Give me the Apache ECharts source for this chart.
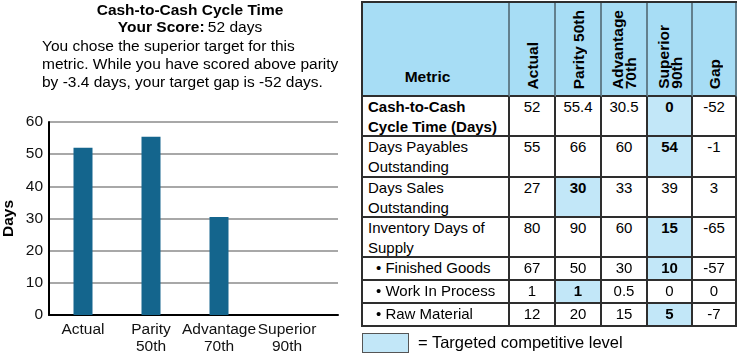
<!DOCTYPE html>
<html>
<head>
<meta charset="utf-8">
<script src="https://cdn.jsdelivr.net/npm/echarts@6/dist/echarts.min.js"></script>
<style>
html,body{margin:0;padding:0;background:#fff;}
body{width:738px;height:358px;position:relative;overflow:hidden;font-family:'Liberation Sans',Arial,sans-serif;color:#000;}
#chart{position:absolute;left:0;top:0;width:738px;height:358px;}
#tbl{position:absolute;left:361px;top:1px;width:374px;height:324px;border-left:2px solid #2e2e2e;border-top:2px solid #2e2e2e;z-index:2;}
.cell{position:absolute;box-sizing:border-box;border-right:2px solid #2e2e2e;border-bottom:2px solid #2e2e2e;background:#fff;}
.hdr{background:#a7ddf5;border-right-color:#62808e;display:flex;flex-direction:column;justify-content:flex-end;align-items:center;font-weight:bold;font-size:15.5px;}
.rot{writing-mode:vertical-rl;transform:rotate(180deg);white-space:pre;line-height:13px;padding-top:6px;}
.metric{font-size:15px;line-height:20px;padding-left:5px;white-space:pre-line;}
.num{font-size:15px;line-height:20px;text-align:center;}
.tgt{background:#c2e7f8;font-weight:bold;}
#legbox{position:absolute;left:362px;top:333px;width:45px;height:18px;border:1px solid #555;background:#c2e7f8;z-index:2;}
#legtxt{position:absolute;left:418px;top:332px;height:20px;line-height:20px;font-size:16.5px;z-index:2;}
</style>
</head>
<body>
<div id="chart"></div>
<div id="tbl"></div>
<div id="legbox"></div>
<div id="legtxt"></div>
<script>
// ---- data ----
const chartTitle = 'Cash-to-Cash Cycle Time';
const yourScore = 52;
const categories = ['Actual', 'Parity\n50th', 'Advantage\n70th', 'Superior\n90th'];
const barValues = [52, 55.4, 30.5, 0];
const yMin = 0, yMax = 60, yStep = 10;
const yAxisName = 'Days';

const tableHeaders = ['Metric', 'Actual', 'Parity 50th', 'Advantage\n70th', 'Superior\n90th', 'Gap'];
const metrics = ['Cash-to-Cash\nCycle Time (Days)', 'Days Payables\nOutstanding', 'Days Sales\nOutstanding',
  'Inventory Days of\nSupply', '• Finished Goods', '• Work In Process', '• Raw Material'];
const actualCol = [52, 55, 27, 80, 67, 1, 12];
const parityCol = [55.4, 66, 30, 90, 50, 1, 20];
const advantageCol = [30.5, 60, 33, 60, 30, 0.5, 15];
const superiorCol = [0, 54, 39, 15, 10, 0, 5];
const gapCol = [-52, -1, 3, -65, -57, 0, -7];
const targetCol = [4, 4, 2, 4, 4, 2, 4]; // 1 Actual, 2 Parity, 3 Advantage, 4 Superior
const boldMetricRows = [0];
const legendText = '= Targeted competitive level';

// ---- layout ----
const colX = [362, 509, 555, 601, 647, 692, 736];
const rowY = [2, 96, 136, 177, 217, 257, 280, 303, 326];
const FONT = "'Liberation Sans', Arial, sans-serif";
const FS = 15.5;

// ---- table ----
const tbl = document.getElementById('tbl');
function addCell(r, c, cls, html) {
  const d = document.createElement('div');
  d.className = 'cell ' + cls;
  d.style.left = (colX[c] - 362) + 'px';
  d.style.top = (rowY[r] - 2) + 'px';
  d.style.width = (colX[c + 1] - colX[c]) + 'px';
  d.style.height = (rowY[r + 1] - rowY[r]) + 'px';
  if (html instanceof Node) d.appendChild(html); else d.textContent = html;
  tbl.appendChild(d);
  return d;
}
tableHeaders.forEach((h, c) => {
  if (c === 0) {
    const d = addCell(0, 0, 'hdr', h);
    d.style.paddingBottom = '9px';
    d.style.paddingRight = '16px';
  } else {
    const s = document.createElement('span');
    s.className = 'rot';
    s.textContent = h;
    addCell(0, c, 'hdr', s);
  }
});
const cols = [actualCol, parityCol, advantageCol, superiorCol, gapCol];
metrics.forEach((m, i) => {
  const d = addCell(i + 1, 0, 'metric', m);
  if (boldMetricRows.includes(i)) d.style.fontWeight = 'bold';
  if (m.startsWith('•')) d.style.paddingLeft = '13px';
  cols.forEach((col, j) => {
    addCell(i + 1, j + 1, 'num' + (targetCol[i] === j + 1 ? ' tgt' : ''), String(col[i]));
  });
});
document.getElementById('legtxt').textContent = legendText;

// ---- chart ----
const chart = echarts.init(document.getElementById('chart'));
const gapToParity = (yourScore - parityCol[0]).toFixed(1);
const para = 'You chose the superior target for this\nmetric. While you have scored above parity\nby ' +
  gapToParity + ' days, your target gap is ' + gapCol[0] + ' days.';
chart.setOption({
  animation: false,
  textStyle: { fontFamily: FONT },
  graphic: [
    { type: 'text', x: 190, y: 11, style: { text: chartTitle, fontSize: FS, fontWeight: 'bold', fontFamily: FONT, fill: '#000', align: 'center', verticalAlign: 'middle' } },
    { type: 'text', x: 190, y: 28, style: { text: '{b|Your Score:} {n|' + yourScore + ' days}', align: 'center', verticalAlign: 'middle',
      rich: { b: { fontSize: FS, fontWeight: 'bold', fontFamily: FONT, fill: '#000' }, n: { fontSize: FS, fontFamily: FONT, fill: '#000' } } } },
    { type: 'text', x: 42, y: 38, style: { text: para, fontSize: FS, lineHeight: 18, fontFamily: FONT, fill: '#000', align: 'left', verticalAlign: 'top' } }
  ],
  grid: [
    { left: 49, top: 122, width: 289, height: 193 },
    { left: 49, top: 122, width: 272, height: 193 }
  ],
  xAxis: [
    { gridIndex: 0, type: 'category', data: categories, axisLine: { lineStyle: { color: '#000', width: 2 } },
      axisTick: { show: false }, axisLabel: { show: false }, splitLine: { show: false } },
    { gridIndex: 1, type: 'category', data: categories, axisLine: { show: false }, axisTick: { show: false },
      axisLabel: { fontSize: FS, color: '#111', lineHeight: 17, margin: 6, fontFamily: FONT, interval: 0 } }
  ],
  yAxis: [
    { gridIndex: 0, type: 'value', min: yMin, max: yMax, interval: yStep,
      axisLine: { show: true, lineStyle: { color: '#000', width: 2 } }, axisTick: { show: false },
      splitLine: { lineStyle: { color: '#a8a8a8', width: 2 } },
      axisLabel: { fontSize: FS, color: '#111', margin: 6, fontFamily: FONT },
      name: yAxisName, nameLocation: 'middle', nameGap: 32,
      nameTextStyle: { fontSize: FS, fontWeight: 'bold', color: '#000', fontFamily: FONT } },
    { gridIndex: 1, type: 'value', min: yMin, max: yMax, interval: yStep, show: false, splitLine: { show: false } }
  ],
  series: [
    { type: 'bar', xAxisIndex: 1, yAxisIndex: 1, data: barValues, barWidth: 19, itemStyle: { color: '#14658d' } }
  ]
});
</script>
</body>
</html>
